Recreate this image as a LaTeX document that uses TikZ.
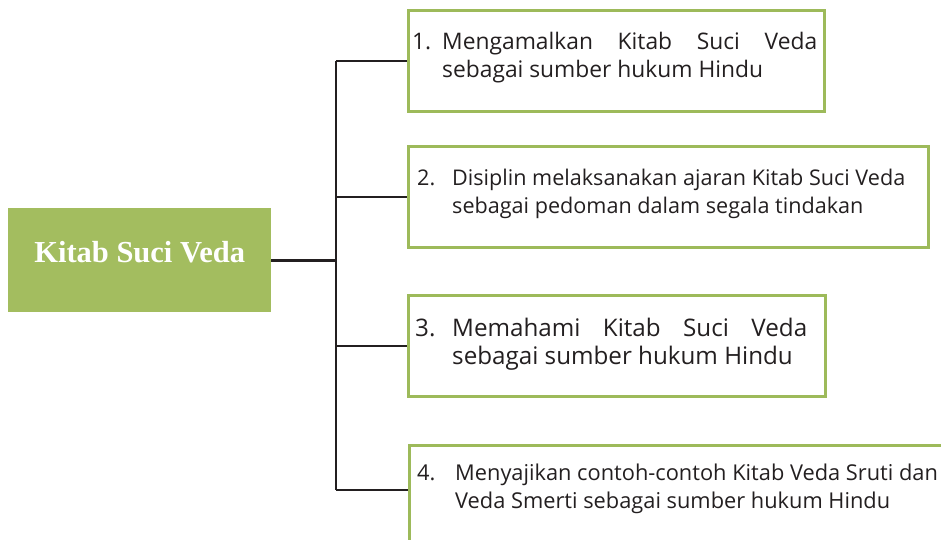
\documentclass[tikz,border=0pt]{standalone}
\usepackage{fontspec}
\setmainfont{Liberation Serif}
\newfontfamily\itemfont{Open Sans}
\definecolor{vedagreen}{HTML}{A3BD5F}
\definecolor{boxgreen}{HTML}{9DBA5A}
\definecolor{ink}{HTML}{231F20}
\newcommand{\jline}[2]{\makebox[#1pt][s]{#2}}

\begin{document}
\begin{tikzpicture}[x=1pt,y=-1pt,
   hubbox/.style={fill=vedagreen,minimum width=263pt,minimum height=104pt,anchor=north west,
      inner sep=0pt,text=white,font=\fontsize{30.5}{36}\selectfont\bfseries,text depth=16pt},
   itembox/.style={draw=boxgreen,line width=2.8pt,anchor=north west,minimum height=101pt,inner sep=0pt},
   num/.style={anchor=base west,inner sep=0pt,text=ink},
   fs/.style={font=\itemfont\fontsize{#1}{28}\selectfont},
   itemtext/.style={num,align=left},
   link/.style={ink,line width=2.6pt}]
   \path[use as bounding box,clip] (0,0) rectangle (941,540);

   \node[hubbox] (veda) at (8,208) {Kitab Suci Veda};

   \node[itembox,minimum width=416pt] (b1) at (407,9) {};
   \node[itembox,minimum width=520pt] (b2) at (407,145) {};
   \node[itembox,minimum width=417pt] (b3) at (407,294) {};
   \node[itembox,minimum width=560pt,minimum height=140pt] (b4) at (408,444) {};

   \node[num,fs=22.8] (n1) at (412,50) {1.};
   \node[num,fs=21.6] (n2) at (417,185) {2.};
   \node[num,fs=24.2] (n3) at (415,336) {3.};
   \node[num,fs=21.8] (n4) at (417,480) {4.};

   \node[itemtext,fs=22.8] (t1) at (442,78) {\jline{375}{Mengamalkan Kitab Suci Veda}\\sebagai sumber hukum Hindu};
   \node[itemtext,fs=21.6] (t2) at (452,213) {Disiplin melaksanakan ajaran Kitab Suci Veda\\sebagai pedoman dalam segala tindakan};
   \node[itemtext,fs=24.2] (t3) at (452,364) {\jline{355}{Memahami Kitab Suci Veda}\\sebagai sumber hukum Hindu};
   \node[itemtext,fs=21.8] (t4) at (455,508) {Menyajikan contoh-contoh Kitab Veda Sruti dan\\Veda Smerti sebagai sumber hukum Hindu};

   \coordinate (end) at (336,490);
   \coordinate (hub) at (veda.east -| end);
   \draw[link] (veda.east) -- (hub);
   \draw[link] (hub |- b1.west) -- (end);
   \draw[link] (hub |- b1.west) -- (b1.west);
   \draw[link] (hub |- b2.west) -- (b2.west);
   \draw[link] (hub |- b3.west) -- (b3.west);
   \draw[link] (end) -- (end -| b4.west);
\end{tikzpicture}
\end{document}
